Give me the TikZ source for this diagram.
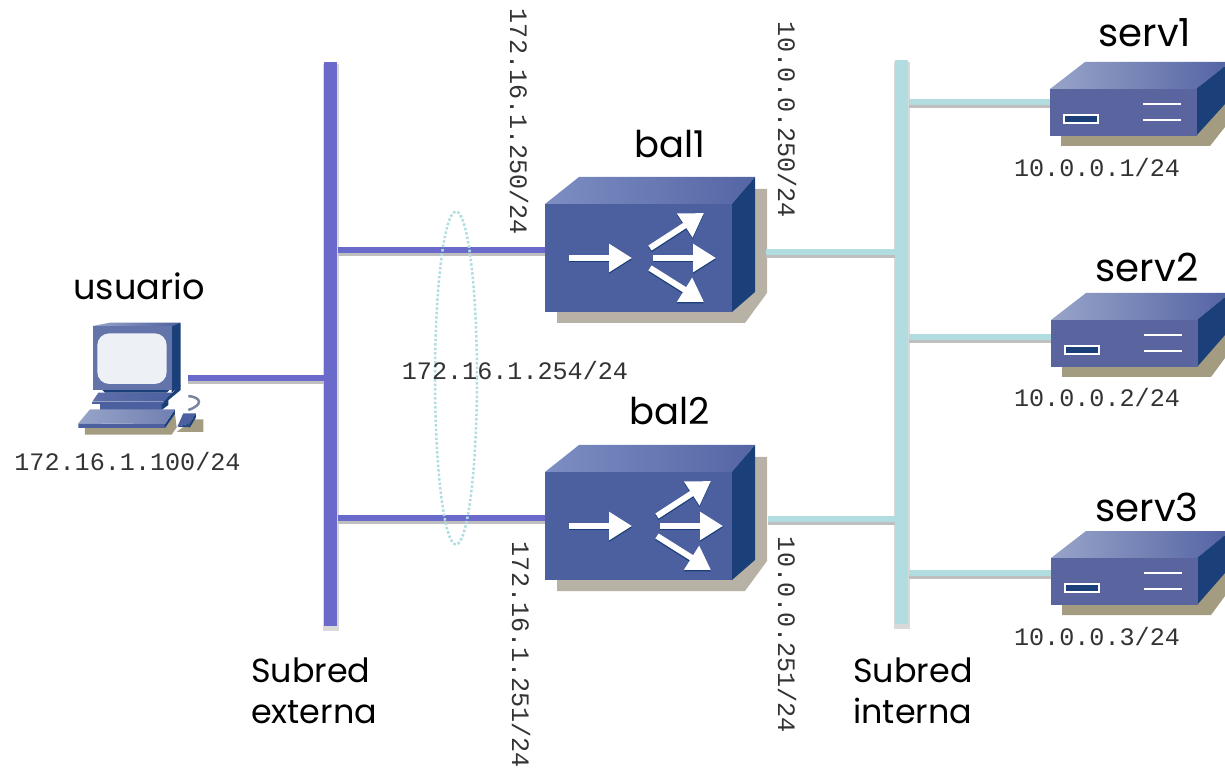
\documentclass[tikz,border=0pt]{standalone}
\usepackage{fontspec}
\setmainfont{Poppins}
\setmonofont{Liberation Mono}
\usetikzlibrary{arrows.meta,shapes.geometric}
\definecolor{extcolor}{HTML}{6A6ACB}
\definecolor{intcolor}{HTML}{B2DDE0}
\definecolor{frontcolor}{HTML}{4C5F9F}
\definecolor{sidecolor}{HTML}{1B3F78}
\definecolor{topleft}{HTML}{7C8EC2}
\definecolor{topright}{HTML}{5565A5}
\definecolor{shadecolor}{HTML}{B8B2A6}
\definecolor{servfront}{HTML}{5A659F}
\definecolor{servleft}{HTML}{98A4C8}
\definecolor{servshade}{HTML}{A39C80}
\definecolor{screencolor}{HTML}{EDF1F5}
\tikzset{
    nametxt/.style={font=\fontsize{#1}{23}\selectfont, inner sep=0pt},
    nametxt/.default=19,
    addr/.style={font=\ttfamily\fontsize{14.3}{14.3}\selectfont, text=black!80, inner sep=0pt},
    bus/.style={minimum width=.26cm, minimum height=11.28cm, inner sep=0pt, anchor=north west,
        preaction={draw=black!15, fill=black!15, line width=.07cm, transform canvas={yshift=-.07cm}}},
    link/.style={line width=.11cm, preaction={draw=black!25, line width=.12cm, transform canvas={yshift=-.07cm}}},
    balface/.style={fill=frontcolor, minimum width=3.74cm, minimum height=2.16cm, inner sep=0pt, anchor=north west},
    servface/.style={fill=servfront, minimum width=2.94cm, minimum height=.94cm, inner sep=0pt, anchor=north west},
    whitearrow/.style={draw=white, line width=.12cm, -{Triangle[length=.46cm,width=.54cm]},
        preaction={draw=sidecolor, line width=.12cm, -{Triangle[length=.46cm,width=.54cm]}, transform canvas={yshift=-.03cm}}},
}
% balancer: name, x and y of the front face, shift of the fork
\newcommand{\balancer}[4]{
    \fill[shadecolor] (#2+12,#3+108) -- (#2+12,#3+119) -- (#2+200,#3+119) -- (#2+222,#3+89) -- (#2+222,#3-15) -- (#2+187,#3-15) -- cycle;
    \shade[left color=topleft, right color=topright] (#2,#3) -- (#2+34,#3-27) -- (#2+210,#3-27) -- (#2+187,#3) -- cycle;
    \fill[sidecolor] (#2+187,#3) -- (#2+210,#3-27) -- (#2+210,#3+88) -- (#2+187,#3+108) -- cycle;
    \node[balface] (#1) at (#2,#3) {};
    \draw[whitearrow] (#2+24,#3+54) -- (#2+87,#3+54);
    \draw[whitearrow] (#2+#4+105,#3+44) -- (#2+#4+159,#3+9);
    \draw[whitearrow] (#2+#4+108,#3+54) -- (#2+#4+171,#3+54);
    \draw[whitearrow] (#2+#4+105,#3+64) -- (#2+#4+159,#3+98);
}
% server: name, x and y of the front face
\newcommand{\server}[3]{
    \fill[servshade] (#2+11,#3+46) -- (#2+11,#3+57) -- (#2+160,#3+57) -- (1225,#3+38) -- (1225,#3+15) -- (#2+146,#3+36) -- cycle;
    \shade[left color=servleft, right color=topright] (#2,#3) -- (#2+35,#3-27) -- (1225,#3-27) -- (1225,#3-23) -- (#2+146,#3) -- cycle;
    \fill[sidecolor] (#2+146,#3) -- (1225,#3-23) -- (1225,#3+15) -- (#2+146,#3+47) -- cycle;
    \node[servface] (#1) at (#2,#3) {};
    \draw[draw=white, fill=sidecolor, line width=.04cm] (#2+14,#3+26) rectangle (#2+48,#3+34);
    \draw[white, line width=.05cm] (#2+93,#3+15) -- (#2+131,#3+15) (#2+93,#3+31) -- (#2+131,#3+31);
}
\begin{document}
\begin{tikzpicture}[x=.02cm,y=-.02cm]
    \useasboundingbox (0,0) rectangle (1225,770);

    \node[bus, fill=extcolor] (extbus) at (324,62) {};
    \node[bus, fill=intcolor] (intbus) at (895,60) {};

    \balancer{bal1}{545}{204}{0}
    \balancer{bal2}{545}{472}{7}
    \server{serv1}{1050}{89}
    \server{serv2}{1051}{320}
    \server{serv3}{1051}{558}

    % usuario
    \begin{scope}[shift={(60,310)},x=.00667cm,y=-.00667cm]
        \fill[servshade] (75,352) -- (75,374) -- (335,374) -- (350,352) -- (345,312) -- (315,352) -- cycle;
        \fill[servshade] (350,366) -- (430,366) -- (430,328) -- (400,328) -- cycle;
        % pantalla y base
        \fill[frontcolor] (120,282) -- (305,282) -- (305,300) -- (120,300) -- cycle;
        \fill[sidecolor] (305,282) -- (325,268) -- (325,285) -- (305,300) -- cycle;
        \shade[left color=frontcolor!90, right color=frontcolor] (97,275) -- (115,248) -- (340,248) -- (310,275) -- cycle;
        \fill[frontcolor] (97,275) -- (310,275) -- (310,283) -- (97,283) -- cycle;
        \fill[sidecolor] (310,275) -- (362,225) -- (362,240) -- (310,283) -- cycle;
        \fill[sidecolor] (125,238) -- (330,238) -- (320,248) -- (135,248) -- cycle;
        \shade[left color=servleft, right color=frontcolor] (98,48) -- (150,38) -- (362,38) -- (335,58) -- cycle;
        \fill[sidecolor] (335,50) -- (362,38) -- (362,228) -- (335,248) -- cycle;
        \node[fill=frontcolor!70!servleft, minimum width=1.58cm, minimum height=1.27cm, inner sep=0pt, anchor=north west] (usuario) at (98,48) {};
        \fill[screencolor, rounded corners=.24cm] (112,70) rectangle (320,222);
        % teclado
        \fill[frontcolor] (55,340) -- (315,342) -- (315,354) -- (55,354) -- cycle;
        \fill[sidecolor] (315,342) -- (345,298) -- (345,312) -- (315,354) -- cycle;
        \shade[left color=servleft, right color=frontcolor!80] (55,340) -- (90,298) -- (345,298) -- (315,342) -- cycle;
        % raton
        \draw[servleft!80!black, line width=.05cm] (385,300) .. controls (430,285) and (425,262) .. (385,258);
        \fill[frontcolor] (352,350) -- (370,310) -- (408,310) -- (390,340) -- cycle;
        \fill[sidecolor] (390,340) -- (408,310) -- (408,322) -- (390,352) -- cycle;
        \fill[sidecolor!70!frontcolor] (352,350) -- (390,340) -- (390,352) -- cycle;
    \end{scope}

    % enlaces
    \coordinate (usuariolink) at (188,378);
    \coordinate (bal1ext) at (545,250);
    \coordinate (bal2ext) at (545,518);
    \coordinate (bal1int) at (766,252);
    \coordinate (bal2int) at (768,519);
    \draw[link, extcolor] (usuariolink) -- (usuariolink -| extbus.west);
    \draw[link, extcolor] (bal1ext -| extbus.east) -- (bal1ext);
    \draw[link, extcolor] (bal2ext -| extbus.east) -- (bal2ext);
    \draw[link, intcolor] (bal1int) -- (bal1int -| intbus.west);
    \draw[link, intcolor] (bal2int) -- (bal2int -| intbus.west);
    \coordinate (serv1link) at (1050,102);
    \coordinate (serv2link) at (1051,337);
    \coordinate (serv3link) at (1051,573);
    \draw[link, intcolor] (serv1link -| intbus.east) -- (serv1link);
    \draw[link, intcolor] (serv2link -| intbus.east) -- (serv2link);
    \draw[link, intcolor] (serv3link -| intbus.east) -- (serv3link);

    \node[draw=intcolor, line width=.05cm, dash pattern=on .05cm off .04cm, ellipse, inner sep=0pt, minimum width=.84cm, minimum height=6.66cm] (cluster) at (456,378) {};

    \node[nametxt=20] (usuariotxt) at (139,286) {usuario};
    \node[nametxt=21] (bal1txt) at (670,144) {bal1};
    \node[nametxt=21] (bal2txt) at (670,411) {bal2};
    \node[nametxt=22] (serv1txt) at (1145,33) {serv1};
    \node[nametxt=22] (serv2txt) at (1147,267) {serv2};
    \node[nametxt=22] (serv3txt) at (1147,507) {serv3};
    \node[nametxt, align=left] (exttxt) at (314,691) {Subred\\externa};
    \node[nametxt, align=left] (inttxt) at (913,691) {Subred\\interna};

    \node[addr] (usuarioip) at (127.5,462) {172.16.1.100/24};
    \node[addr] (clusterip) at (515,371) {172.16.1.254/24};
    \node[addr] (serv1ip) at (1097,168) {10.0.0.1/24};
    \node[addr] (serv2ip) at (1097,398) {10.0.0.2/24};
    \node[addr] (serv3ip) at (1097,637) {10.0.0.3/24};
    \node[addr, rotate=-90] (bal1extip) at (519,122) {172.16.1.250/24};
    \node[addr, rotate=-90] (bal1intip) at (787,120) {10.0.0.250/24};
    \node[addr, rotate=-90] (bal2extip) at (521,655) {172.16.1.251/24};
    \node[addr, rotate=-90] (bal2intip) at (787,635) {10.0.0.251/24};
\end{tikzpicture}
\end{document}
